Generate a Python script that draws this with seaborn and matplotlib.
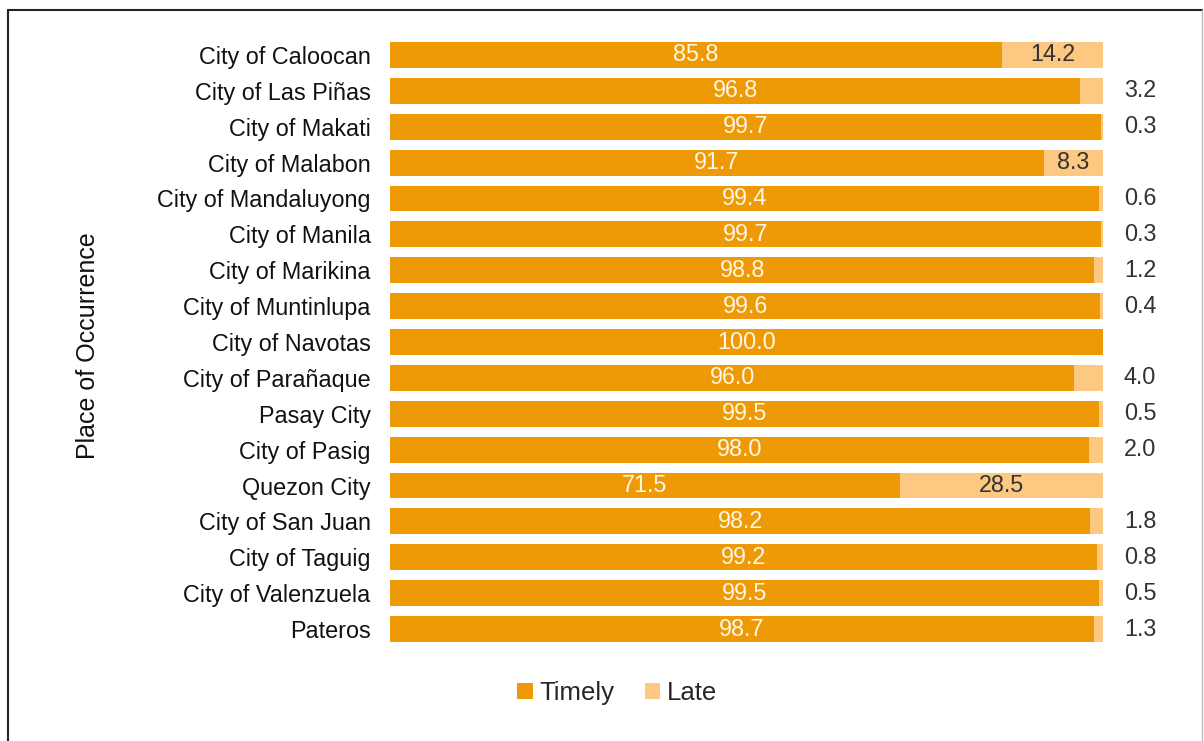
import matplotlib
matplotlib.use("Agg")
import matplotlib.pyplot as plt
import seaborn as sns
import pandas as pd
from matplotlib.lines import Line2D
from matplotlib.patches import Patch

cities = ["City of Caloocan", "City of Las Piñas", "City of Makati", "City of Malabon",
          "City of Mandaluyong", "City of Manila", "City of Marikina", "City of Muntinlupa",
          "City of Navotas", "City of Parañaque", "Pasay City", "City of Pasig",
          "Quezon City", "City of San Juan", "City of Taguig", "City of Valenzuela", "Pateros"]
timely = [85.8, 96.8, 99.7, 91.7, 99.4, 99.7, 98.8, 99.6, 100.0, 96.0, 99.5, 98.0,
          71.5, 98.2, 99.2, 99.5, 98.7]
late = [14.2, 3.2, 0.3, 8.3, 0.6, 0.3, 1.2, 0.4, 0.0, 4.0, 0.5, 2.0,
        28.5, 1.8, 0.8, 0.5, 1.3]

C_TIMELY = "#EE9A06"
C_LATE = "#FCC882"
FS = 16.8

sns.set_theme(style="white")
plt.rcParams["font.family"] = ["Liberation Sans", "DejaVu Sans"]

df = pd.DataFrame({"city": cities, "Timely": timely, "Late": late})
df["total"] = df["Timely"] + df["Late"]

fig = plt.figure(figsize=(12.04, 7.41), dpi=100)
ax = fig.add_axes([390/1204, 1-647/741, (1103-390)/1204, (647-37)/741])

sns.barplot(data=df, y="city", x="total", color=C_LATE, orient="h", width=0.72,
            ax=ax, saturation=1, linewidth=0, order=cities)
sns.barplot(data=df, y="city", x="Timely", color=C_TIMELY, orient="h", width=0.72,
            ax=ax, saturation=1, linewidth=0, order=cities)

ax.set_xlim(0, 100)
ax.set_ylim(16.5, -0.5)
ax.set_xticks([])
for s in ax.spines.values():
    s.set_visible(False)
ax.tick_params(axis="y", length=0, pad=14, labelsize=FS, labelcolor="#111111")
ax.set_xlabel("")
ax.set_ylabel("")
fig.text(88/1204, 1-346/741, "Place of Occurrence", rotation=90, ha="center",
         va="center", fontsize=18, color="#111111")

for i, (t, l) in enumerate(zip(timely, late)):
    ax.text(t / 2, i, f"{t:.1f}", ha="center", va="center", color="#FFF6E6",
            fontsize=FS)
    if l <= 0:
        continue
    if l >= 5:
        ax.text(t + l / 2, i, f"{l:.1f}", ha="center", va="center",
                color="#333333", fontsize=FS)
    else:
        ax.text(105.2, i, f"{l:.1f}", ha="center", va="center",
                color="#333333", fontsize=FS, clip_on=False)

handles = [Patch(facecolor=C_TIMELY, edgecolor="none", label="Timely"),
           Patch(facecolor=C_LATE, edgecolor="none", label="Late")]
fig.legend(handles=handles, loc="center", bbox_to_anchor=(617/1204, 1-693/741),
           ncol=2, frameon=False, fontsize=18.5, handlelength=0.6, handleheight=0.6,
           handletextpad=0.25, columnspacing=1.2)

# outer border
fig.add_artist(Line2D([8/1204, 8/1204], [0, 1-10/741], color="#222222", lw=1.5,
                      transform=fig.transFigure))
fig.add_artist(Line2D([8/1204, 1202/1204], [1-10/741, 1-10/741], color="#222222", lw=1.5,
                      transform=fig.transFigure))
fig.add_artist(Line2D([1202/1204, 1202/1204], [0, 1-10/741], color="#bbbbbb", lw=1,
                      transform=fig.transFigure))

fig.savefig("out.png", dpi=100, facecolor="white")
